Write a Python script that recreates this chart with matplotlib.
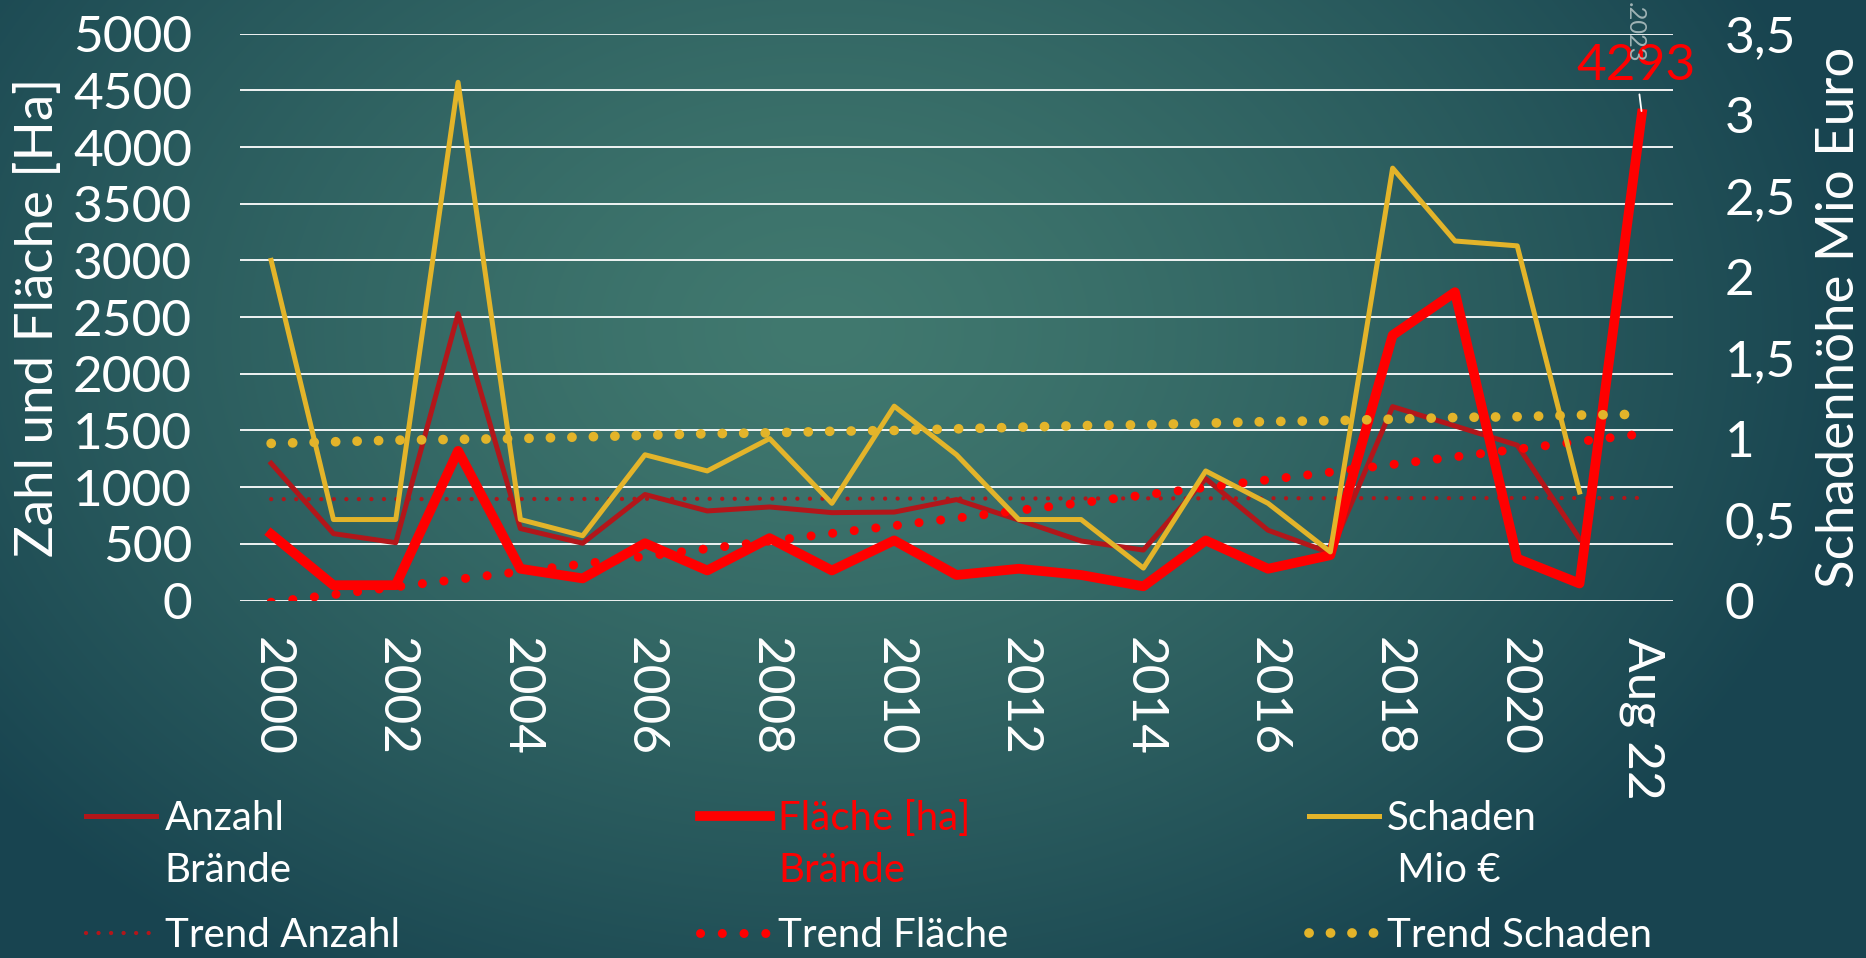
import numpy as np
import matplotlib
matplotlib.use('Agg')
import matplotlib.pyplot as plt
from matplotlib.legend_handler import HandlerLine2D

# categories (2000 .. 2021, then August 2022)
jahre = [str(j) for j in range(2000, 2022)] + ['Aug 22']

# number of fires, burnt area [ha], damage [Mio Euro]
anzahl = [1210, 590, 510, 2530, 635, 505, 935, 790, 825, 775, 780, 890,
          710, 525, 445, 1075, 620, 420, 1710, 1540, 1370, 545]
flaeche = [585, 135, 135, 1320, 280, 195, 505, 265, 550, 265, 530, 225,
           280, 225, 125, 530, 280, 400, 2340, 2720, 370, 150, 4293]
schaden = [2.1, 0.5, 0.5, 3.2, 0.5, 0.4, 0.9, 0.8, 1.0, 0.6, 1.2, 0.9,
           0.5, 0.5, 0.2, 0.8, 0.6, 0.3, 2.67, 2.22, 2.19, 0.67]

# trend series
trend_anzahl = [894, 894, 895, 895, 896, 896, 897, 897, 898, 898, 899, 899,
                900, 900, 901, 901, 902, 902, 903, 903, 904, 904, 905]
trend_flaeche = [-15, 52, 120, 187, 255, 322, 390, 457, 525, 592, 660, 727,
                 795, 862, 930, 997, 1065, 1132, 1200, 1267, 1335, 1402, 1470]
trend_schaden = [0.97, 0.98, 0.99, 0.995, 1.0, 1.01, 1.02, 1.03, 1.035, 1.045,
                 1.05, 1.06, 1.07, 1.08, 1.085, 1.095, 1.105, 1.11, 1.12,
                 1.13, 1.135, 1.145, 1.15]

schaden_ticks = ['0', '0,5', '1', '1,5', '2', '2,5', '3', '3,5']

DUNKELROT = '#b3161a'
ROT = '#ff0000'
GOLD = '#e3b42a'


class RaisedLine(HandlerLine2D):
    # legend handle sitting next to the first line of a two-line label
    def __init__(self, lift=0.0, **kw):
        super().__init__(**kw)
        self.lift = lift

    def create_artists(self, legend, orig_handle, xdescent, ydescent,
                       width, height, fontsize, trans):
        return super().create_artists(legend, orig_handle, xdescent,
                                      ydescent - 2 * self.lift * fontsize,
                                      width, height, fontsize, trans)


plt.rcParams['font.family'] = ['Lato', 'DejaVu Sans']

W, H = 1866, 958
fig = plt.figure(figsize=(W / 100, H / 100), dpi=100)

# radial teal background
bg = fig.add_axes([0, 0, 1, 1], zorder=-10)
yy, xx = np.mgrid[0:H, 0:W]
r = np.sqrt(((xx - 820) / 1050) ** 2 + ((yy - 330) / 760) ** 2).clip(0, 1)
inner = np.array([0x41, 0x79, 0x6f]) / 255
outer = np.array([0x18, 0x44, 0x50]) / 255
bg.imshow(inner + (outer - inner) * r[..., None] ** 1.3, aspect='auto')
bg.axis('off')

ax = fig.add_axes([240 / W, 1 - 600.5 / H, 1433 / W, 566.8 / H])
ax.patch.set_visible(False)
ax2 = ax.twinx()

x = np.arange(len(jahre))
l_anz, = ax.plot(x[:len(anzahl)], anzahl, color=DUNKELROT, lw=3.6,
                 solid_joinstyle='round', label='Anzahl\nBrände')
l_ta, = ax.plot(x, trend_anzahl, color=DUNKELROT, lw=3.1, ls=(0, (0.01, 2.9)),
                dash_capstyle='round', label='Trend Anzahl')
l_fl, = ax.plot(x, flaeche, color=ROT, lw=7, solid_joinstyle='round',
                label='Fläche [ha]\nBrände')
l_tf, = ax.plot(x, trend_flaeche, color=ROT, lw=6.5, ls=(0, (0.01, 2.4)),
                dash_capstyle='round', label='Trend Fläche')
l_sch, = ax2.plot(x[:len(schaden)], schaden, color=GOLD, lw=3.6,
                  solid_joinstyle='round', label='Schaden\n Mio €')
l_ts, = ax2.plot(x, trend_schaden, color=GOLD, lw=7, ls=(0, (0.01, 2.2)),
                 dash_capstyle='round', label='Trend Schaden')

ax.annotate(str(flaeche[-1]), xy=(x[-1], flaeche[-1]), xytext=(-6, 48),
            textcoords='offset pixels', ha='center', va='center',
            color=ROT, fontsize=37,
            arrowprops=dict(arrowstyle='-', color='white', lw=1.3,
                            shrinkA=2, shrinkB=2))

ax.set_xlim(-0.5, len(jahre) - 0.5)
ax.set_ylim(0, 5000)
ax2.set_ylim(0, 3.5)
ax.set_yticks(range(0, 5001, 500))
ax2.set_yticks(np.arange(0, 3.51, 0.5))
ax2.set_yticklabels(schaden_ticks)
ax.set_xticks(x[::2])
ax.set_xticklabels(jahre[::2], rotation=270)

ax.grid(axis='y', color='white', lw=1.3)
ax.set_axisbelow(True)
for a in (ax, ax2):
    for s in a.spines.values():
        s.set_visible(False)
ax.tick_params(axis='y', length=0, colors='white', labelsize=37, pad=34.5)
ax.tick_params(axis='x', length=0, colors='white', labelsize=37, pad=26)
ax2.tick_params(axis='y', length=0, colors='white', labelsize=37, pad=37)

ax.set_ylabel('Zahl und Fläche [Ha]', color='white', fontsize=38)
ax.yaxis.set_label_coords((62 - 240) / 1433, 0.5)
ax2.set_ylabel('Schadenhöhe Mio Euro', color='white', fontsize=38)
ax2.yaxis.set_label_coords((1816 - 240) / 1433, 0.5)

fig.text(1634 / W, 1 - 2 / H, '.2023', rotation=270, ha='center', va='top',
         color='#9fb3b5', fontsize=17)

# column-major order for a 3-column legend
handles = [l_anz, l_ta, l_fl, l_tf, l_sch, l_ts]
hmap = {h: RaisedLine(lift=0.74) for h in (l_anz, l_fl, l_sch)}
leg = fig.legend(handles, [h.get_label() for h in handles],
                 loc='upper left', bbox_to_anchor=(86 / W, 1 - 800 / H),
                 ncol=3, frameon=False, fontsize=29, labelcolor='white',
                 handlelength=1.75, handletextpad=0.2, columnspacing=7.45,
                 labelspacing=0.7, borderpad=0, borderaxespad=0,
                 handler_map=hmap)
for t in leg.get_texts():
    t.set_linespacing(1.5)
leg.get_texts()[2].set_color(ROT)

fig.savefig('out.png', dpi=100)
